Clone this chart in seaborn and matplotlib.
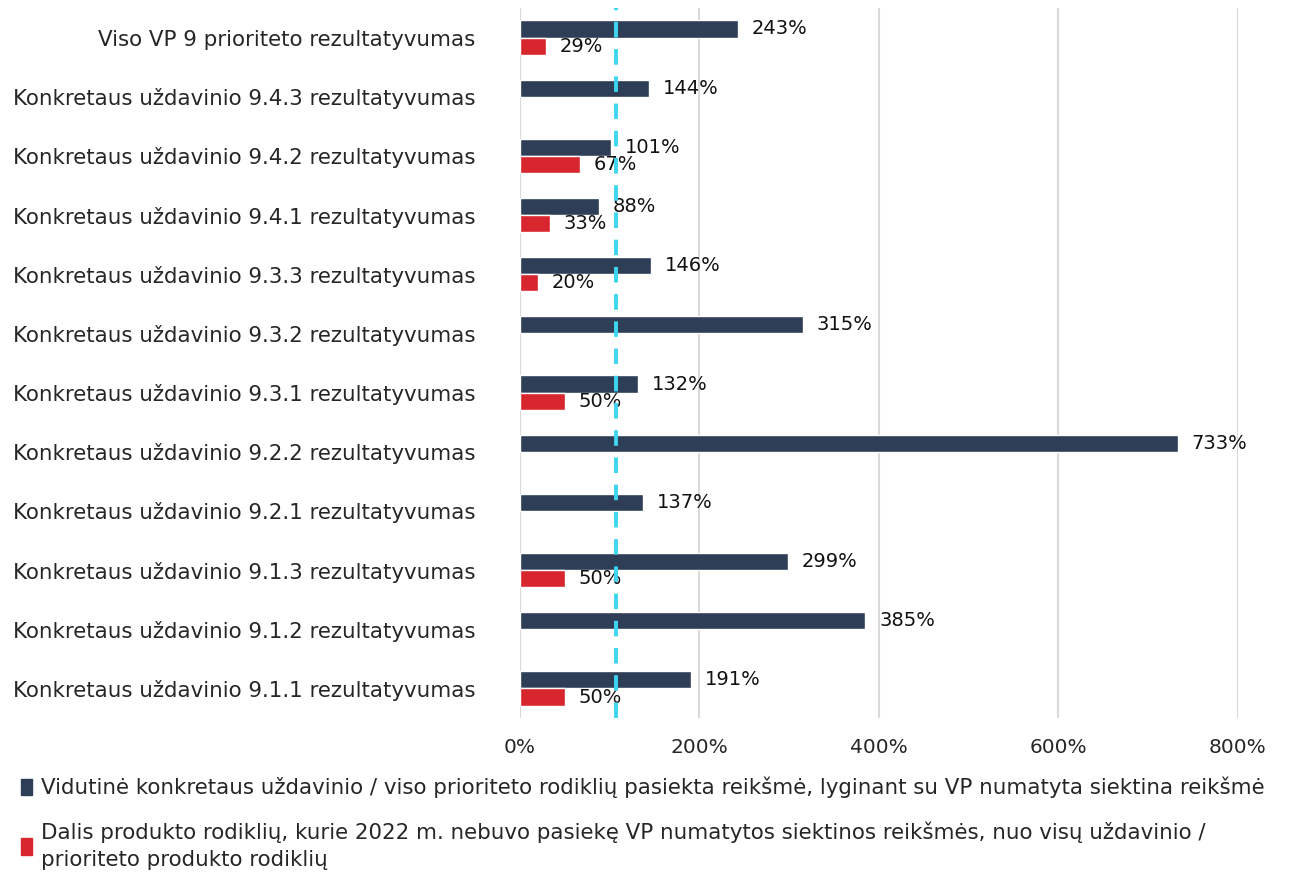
import numpy as np
import pandas as pd
import matplotlib.pyplot as plt
import seaborn as sns
from matplotlib.patches import Patch

kategorijos = [
    'Viso VP 9 prioriteto rezultatyvumas',
    'Konkretaus uždavinio 9.4.3 rezultatyvumas',
    'Konkretaus uždavinio 9.4.2 rezultatyvumas',
    'Konkretaus uždavinio 9.4.1 rezultatyvumas',
    'Konkretaus uždavinio 9.3.3 rezultatyvumas',
    'Konkretaus uždavinio 9.3.2 rezultatyvumas',
    'Konkretaus uždavinio 9.3.1 rezultatyvumas',
    'Konkretaus uždavinio 9.2.2 rezultatyvumas',
    'Konkretaus uždavinio 9.2.1 rezultatyvumas',
    'Konkretaus uždavinio 9.1.3 rezultatyvumas',
    'Konkretaus uždavinio 9.1.2 rezultatyvumas',
    'Konkretaus uždavinio 9.1.1 rezultatyvumas',
]
pasiekta = [243, 144, 101, 88, 146, 315, 132, 733, 137, 299, 385, 191]
nepasiekta = [29, np.nan, 67, 33, 20, np.nan, 50, np.nan, np.nan, 50, np.nan, 50]

serija1 = 'Vidutinė konkretaus uždavinio / viso prioriteto rodiklių pasiekta reikšmė, lyginant su VP numatyta siektina reikšmė'
serija2 = ('Dalis produkto rodiklių, kurie 2022 m. nebuvo pasiekę VP numatytos siektinos reikšmės, nuo visų uždavinio /\n'
           'prioriteto produkto rodiklių')
riba = 107
x_zymes = [0, 200, 400, 600, 800]

df = pd.DataFrame({
    'Kategorija': kategorijos * 2,
    'Serija': [serija1] * len(kategorijos) + [serija2] * len(kategorijos),
    'Reiksme': pasiekta + nepasiekta,
})

sns.set_theme(style='white')
plt.rcParams['font.family'] = ['DejaVu Sans']

fig = plt.figure(figsize=(13, 8.8), dpi=100)
ax = fig.add_axes([0.4, 0.184, 0.552, 0.807])

spalvos = {serija1: '#2E3E56', serija2: '#D7262D'}
sns.barplot(data=df, y='Kategorija', x='Reiksme', hue='Serija', order=kategorijos,
            hue_order=[serija1, serija2], palette=spalvos, orient='h',
            width=0.58, dodge=True, saturation=1, ax=ax, legend=False)

for c in ax.containers:
    zymes = [f'{v:.0f}%' if np.isfinite(v) else '' for v in c.datavalues]
    ax.bar_label(c, labels=zymes, padding=10, fontsize=14, color='#111111')

ax.axvline(riba, color='#3DD5F0', linestyle=(0, (4, 3)), linewidth=2.8, zorder=5)

ax.set_xlim(0, 800)
ax.set_xticks(x_zymes)
ax.set_xticklabels([f'{v}%' for v in x_zymes], fontsize=14.5)
ax.grid(axis='x', color='#D9D9D9', linewidth=1.5)
ax.set_axisbelow(True)
ax.tick_params(axis='y', labelsize=15.4, length=0, pad=32)
ax.tick_params(axis='x', length=0, pad=14)
ax.set_xlabel('')
ax.set_ylabel('')
for s in ax.spines.values():
    s.set_visible(False)
ax.set_ylim(len(kategorijos) - 0.5, -0.5)

rankenos = [Patch(color=spalvos[serija1]), Patch(color=spalvos[serija2])]
leg = fig.legend(rankenos, [serija1, serija2], loc='upper left', bbox_to_anchor=(0.001, 0.139),
                 frameon=False, fontsize=15.4, handlelength=0.55, handleheight=0.8,
                 handletextpad=0.4, labelspacing=1.1)
for t in leg.get_texts():
    t.set_linespacing(1.4)

fig.savefig('out.png', dpi=100)
